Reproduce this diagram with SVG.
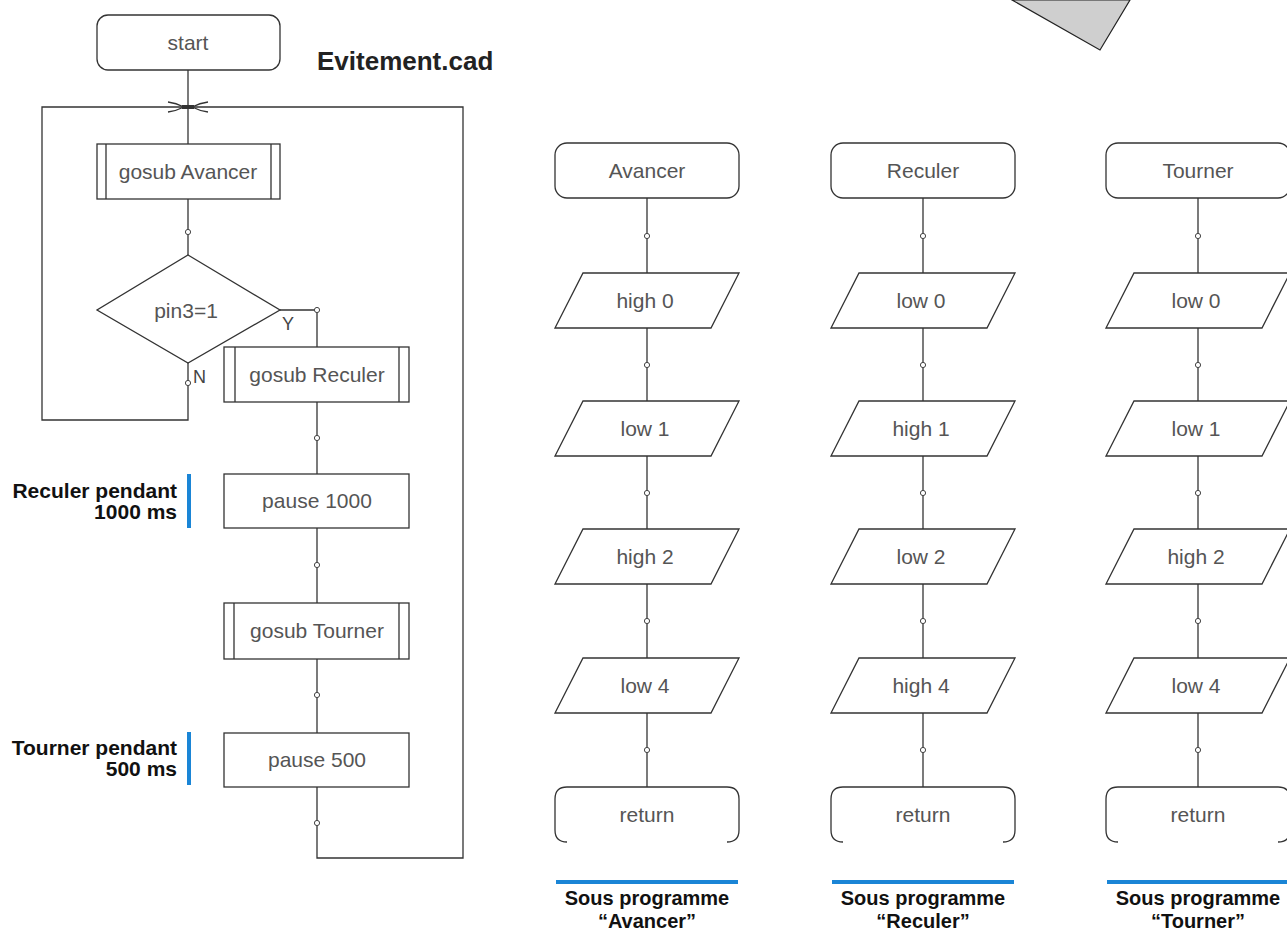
<svg xmlns="http://www.w3.org/2000/svg" width="1287" height="932" viewBox="0 0 1287 932">
  <style>
    .shape { fill: #ffffff; stroke: #333333; stroke-width: 1.3; }
    .line { fill: none; stroke: #333333; stroke-width: 1.3; }
    .dot { fill: #ffffff; stroke: #444444; stroke-width: 1; }
    .lbl { font-family: "Liberation Sans", Arial, sans-serif; font-size: 21px; fill: #555555; text-anchor: middle; }
    .yn { font-family: "Liberation Sans", Arial, sans-serif; font-size: 18px; fill: #444444; }
    .note { font-family: "Liberation Sans", Arial, sans-serif; font-size: 21px; font-weight: bold; fill: #111111; text-anchor: end; }
    .sub { font-family: "Liberation Sans", Arial, sans-serif; font-size: 20px; font-weight: bold; fill: #111111; text-anchor: middle; }
    .title { font-family: "Liberation Sans", Arial, sans-serif; font-size: 26px; font-weight: bold; fill: #222222; }
    .bar { fill: #1a85d6; }
  </style>
  <defs>
    <rect id="term" x="-92" y="0" width="184" height="55" rx="12" ry="12"/>
    <polygon id="io" points="-64,0 92,0 64,55 -92,55"/>
    <path id="ret" d="M -80,55 Q -92,55 -92,43 L -92,12 Q -92,0 -80,0 L 80,0 Q 92,0 92,12 L 92,43 Q 92,55 80,55"/>
    <circle id="node" r="2.6"/>
  </defs>

  <rect width="1287" height="932" fill="#ffffff"/>

  <!-- corner of a grey sheet, top right -->
  <polygon points="1012,0 1100,50 1130,0" fill="#cfcfcf" stroke="#222222" stroke-width="1.2"/>

  <text class="title" x="317" y="70">Evitement.cad</text>

  <!-- connectors -->
  <g id="connectors">
    <!-- main program -->
    <path class="line" d="M188,70 V144"/>
    <path class="line" d="M188,199 V255"/>
    <path class="line" d="M280,310 H317 V347"/>
    <path class="line" d="M188,363 V420 H42 V107 H463 V858 H317 V787"/>
    <path class="line" d="M317,402 V474"/>
    <path class="line" d="M317,528 V603"/>
    <path class="line" d="M317,659 V733"/>
    <!-- junction arrows -->
    <path class="line" d="M168,102 Q176,103 184,107 Q176,111 168,112"/>
    <path class="line" d="M208,102 Q200,103 192,107 Q200,111 208,112"/>
    <rect x="182" y="105" width="12" height="4" fill="#333333"/>
    <use href="#node" class="dot" x="188" y="232"/>
    <use href="#node" class="dot" x="317" y="310"/>
    <use href="#node" class="dot" x="188" y="383"/>
    <use href="#node" class="dot" x="317" y="438"/>
    <use href="#node" class="dot" x="317" y="565"/>
    <use href="#node" class="dot" x="317" y="695"/>
    <use href="#node" class="dot" x="317" y="823"/>

    <!-- subroutine columns -->
    <path class="line" d="M647,198 V787"/>
    <path class="line" d="M923,198 V787"/>
    <path class="line" d="M1198,198 V787"/>
    <use href="#node" class="dot" x="647" y="236"/>
    <use href="#node" class="dot" x="647" y="365"/>
    <use href="#node" class="dot" x="647" y="493"/>
    <use href="#node" class="dot" x="647" y="621"/>
    <use href="#node" class="dot" x="647" y="750"/>
    <use href="#node" class="dot" x="923" y="236"/>
    <use href="#node" class="dot" x="923" y="365"/>
    <use href="#node" class="dot" x="923" y="493"/>
    <use href="#node" class="dot" x="923" y="621"/>
    <use href="#node" class="dot" x="923" y="750"/>
    <use href="#node" class="dot" x="1198" y="236"/>
    <use href="#node" class="dot" x="1198" y="365"/>
    <use href="#node" class="dot" x="1198" y="493"/>
    <use href="#node" class="dot" x="1198" y="621"/>
    <use href="#node" class="dot" x="1198" y="750"/>
  </g>

  <!-- main program nodes -->
  <g id="n-start">
    <rect class="shape" x="97" y="15" width="183" height="55" rx="11" ry="11"/>
    <text class="lbl" x="188" y="50">start</text>
  </g>
  <g id="n-gosub-avancer">
    <rect class="shape" x="97" y="144" width="183" height="55"/>
    <path class="line" d="M106,144 V199 M271,144 V199"/>
    <text class="lbl" x="188" y="179">gosub Avancer</text>
  </g>
  <g id="n-pin3">
    <polygon class="shape" points="188,255 280,310 188,363 97,310"/>
    <text class="lbl" x="186" y="318">pin3=1</text>
    <text class="yn" x="282" y="330">Y</text>
    <text class="yn" x="193" y="383">N</text>
  </g>
  <g id="n-gosub-reculer">
    <rect class="shape" x="224" y="347" width="185" height="55"/>
    <path class="line" d="M235,347 V402 M399,347 V402"/>
    <text class="lbl" x="317" y="382">gosub Reculer</text>
  </g>
  <g id="n-pause-1000">
    <rect class="shape" x="224" y="474" width="185" height="54"/>
    <text class="lbl" x="317" y="508">pause 1000</text>
  </g>
  <g id="n-gosub-tourner">
    <rect class="shape" x="224" y="603" width="185" height="56"/>
    <path class="line" d="M234,603 V659 M399,603 V659"/>
    <text class="lbl" x="317" y="638">gosub Tourner</text>
  </g>
  <g id="n-pause-500">
    <rect class="shape" x="224" y="733" width="185" height="54"/>
    <text class="lbl" x="317" y="767">pause 500</text>
  </g>

  <!-- notes -->
  <g id="note-reculer">
    <rect class="bar" x="187" y="474" width="4" height="54"/>
    <text class="note" x="177" y="498">Reculer pendant</text>
    <text class="note" x="177" y="519">1000 ms</text>
  </g>
  <g id="note-tourner">
    <rect class="bar" x="187" y="732" width="4" height="53"/>
    <text class="note" x="177" y="755">Tourner pendant</text>
    <text class="note" x="177" y="776">500 ms</text>
  </g>

  <!-- subroutine Avancer -->
  <g id="sub-avancer">
    <use href="#term" class="shape" x="647" y="143"/>
    <text class="lbl" x="647" y="178">Avancer</text>
    <use href="#io" class="shape" x="647" y="273"/>
    <text class="lbl" x="645" y="308">high 0</text>
    <use href="#io" class="shape" x="647" y="401"/>
    <text class="lbl" x="645" y="436">low 1</text>
    <use href="#io" class="shape" x="647" y="529"/>
    <text class="lbl" x="645" y="564">high 2</text>
    <use href="#io" class="shape" x="647" y="658"/>
    <text class="lbl" x="645" y="693">low 4</text>
    <use href="#ret" class="line" x="647" y="787"/>
    <text class="lbl" x="647" y="822">return</text>
    <rect class="bar" x="556" y="880" width="182" height="4"/>
    <text class="sub" x="647" y="905">Sous programme</text>
    <text class="sub" x="647" y="928">“Avancer”</text>
  </g>

  <!-- subroutine Reculer -->
  <g id="sub-reculer">
    <use href="#term" class="shape" x="923" y="143"/>
    <text class="lbl" x="923" y="178">Reculer</text>
    <use href="#io" class="shape" x="923" y="273"/>
    <text class="lbl" x="921" y="308">low 0</text>
    <use href="#io" class="shape" x="923" y="401"/>
    <text class="lbl" x="921" y="436">high 1</text>
    <use href="#io" class="shape" x="923" y="529"/>
    <text class="lbl" x="921" y="564">low 2</text>
    <use href="#io" class="shape" x="923" y="658"/>
    <text class="lbl" x="921" y="693">high 4</text>
    <use href="#ret" class="line" x="923" y="787"/>
    <text class="lbl" x="923" y="822">return</text>
    <rect class="bar" x="832" y="880" width="182" height="4"/>
    <text class="sub" x="923" y="905">Sous programme</text>
    <text class="sub" x="923" y="928">“Reculer”</text>
  </g>

  <!-- subroutine Tourner -->
  <g id="sub-tourner">
    <use href="#term" class="shape" x="1198" y="143"/>
    <text class="lbl" x="1198" y="178">Tourner</text>
    <use href="#io" class="shape" x="1198" y="273"/>
    <text class="lbl" x="1196" y="308">low 0</text>
    <use href="#io" class="shape" x="1198" y="401"/>
    <text class="lbl" x="1196" y="436">low 1</text>
    <use href="#io" class="shape" x="1198" y="529"/>
    <text class="lbl" x="1196" y="564">high 2</text>
    <use href="#io" class="shape" x="1198" y="658"/>
    <text class="lbl" x="1196" y="693">low 4</text>
    <use href="#ret" class="line" x="1198" y="787"/>
    <text class="lbl" x="1198" y="822">return</text>
    <rect class="bar" x="1107" y="880" width="183" height="4"/>
    <text class="sub" x="1198" y="905">Sous programme</text>
    <text class="sub" x="1198" y="928">“Tourner”</text>
  </g>
</svg>
